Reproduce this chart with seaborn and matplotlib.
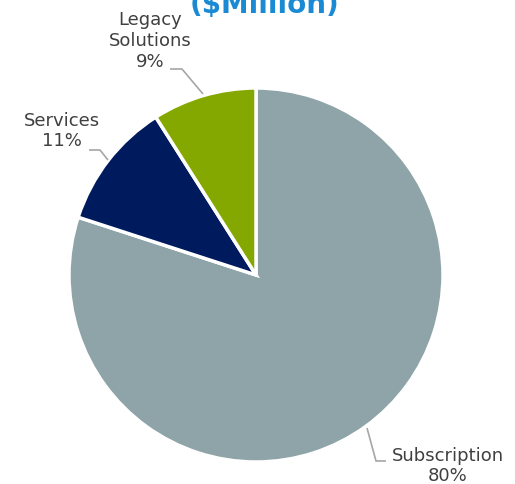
import matplotlib
matplotlib.use("Agg")
import matplotlib.pyplot as plt
import seaborn as sns

# Revenue mix by segment (share of total, %)
segments = ["Subscription", "Services", "Legacy\nSolutions"]
shares = [80, 11, 9]
colors = ["#8fa4a8", "#001a5e", "#84a800"]
title = "($Million)"

sns.set_theme(style="white")
plt.rcParams["font.family"] = ["DejaVu Sans"]

W, H = 515, 484
fig = plt.figure(figsize=(W / 100, H / 100), dpi=100)
ax = fig.add_axes([0, 0, 1, 1])

def py(y):
    # convert a top-down pixel row to axis units
    return H - y

ax.pie(
    shares,
    colors=colors,
    startangle=90,
    counterclock=False,
    center=(256, py(275)),
    radius=187,
    wedgeprops=dict(edgecolor="white", linewidth=2.5),
    frame=True,
)
ax.set_xlim(0, W)
ax.set_ylim(0, H)
ax.axis("off")

label_color = "#404040"
line_color = "#a6a6a6"
fs = 13

# label positions (text centre) and leader lines for each segment
label_pos = [(448, 466), (62, 131), (150, 41)]
leaders = [
    [(367, 428), (376, 461), (386, 461)],
    [(89, 150), (100, 150), (108, 160)],
    [(170, 69), (182, 69), (203, 94)],
]

for name, val, (lx, ly), pts in zip(segments, shares, label_pos, leaders):
    ax.text(lx, py(ly), f"{name}\n{val}%", ha="center", va="center",
            fontsize=fs, color=label_color, linespacing=1.2)
    xs = [p[0] for p in pts]
    ys = [py(p[1]) for p in pts]
    ax.plot(xs, ys, color=line_color, lw=1.2, solid_capstyle="butt")

ax.text(264, py(13), title, ha="center", va="baseline", fontsize=20,
        fontweight="bold", color="#1a8ad4")

fig.savefig("out.png", dpi=100)
